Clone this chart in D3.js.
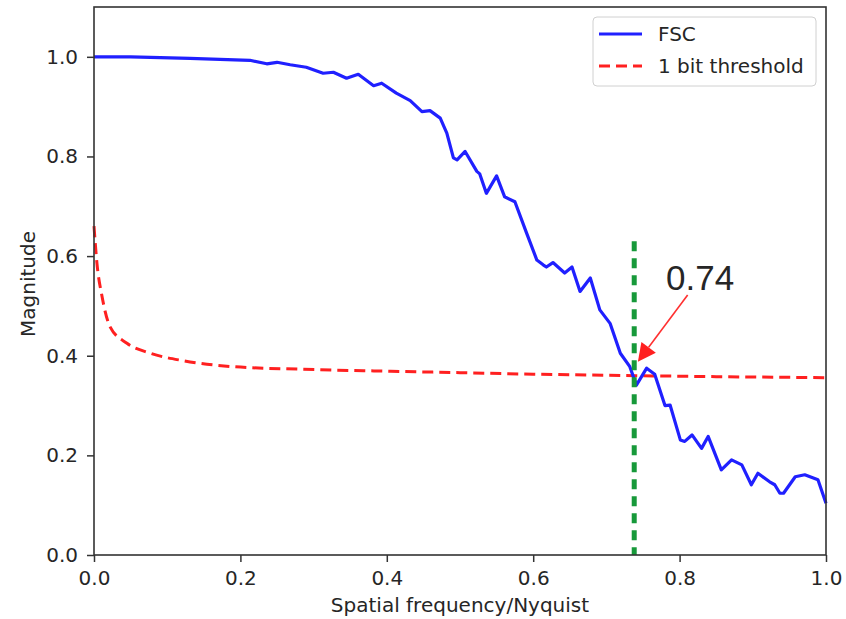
<!DOCTYPE html>
<html>
<head>
<meta charset="utf-8">
<script src="https://cdn.jsdelivr.net/npm/d3@7"></script>
<style>
  body { margin: 0; background: #fff; }
  text { font-family: "DejaVu Sans", sans-serif; fill: #262626; }
</style>
</head>
<body>
<svg id="chart"></svg>
<script>
// FSC curve
const fscX = [0.000, 0.050, 0.131, 0.213, 0.236, 0.250, 0.268, 0.290, 0.313, 0.327, 0.345, 0.361,
  0.382, 0.393, 0.413, 0.432, 0.448, 0.459, 0.473, 0.482, 0.491, 0.496, 0.507, 0.523, 0.527,
  0.536, 0.550, 0.561, 0.575, 0.591, 0.605, 0.614, 0.618, 0.627, 0.643, 0.653, 0.664, 0.678,
  0.691, 0.705, 0.719, 0.732, 0.741, 0.755, 0.766, 0.780, 0.787, 0.801, 0.807, 0.817, 0.830,
  0.839, 0.857, 0.871, 0.885, 0.898, 0.907, 0.923, 0.930, 0.937, 0.942, 0.958, 0.971, 0.989, 1.000]
const fscY = [1.000, 1.000, 0.997, 0.993, 0.986, 0.989, 0.984, 0.979, 0.967, 0.969, 0.957, 0.965,
  0.942, 0.947, 0.927, 0.912, 0.890, 0.892, 0.877, 0.847, 0.797, 0.793, 0.810, 0.770, 0.765,
  0.726, 0.761, 0.719, 0.709, 0.646, 0.592, 0.582, 0.578, 0.587, 0.566, 0.578, 0.529, 0.556,
  0.492, 0.465, 0.405, 0.378, 0.341, 0.375, 0.363, 0.300, 0.301, 0.231, 0.228, 0.241, 0.214,
  0.238, 0.171, 0.191, 0.181, 0.141, 0.164, 0.147, 0.141, 0.124, 0.124, 0.157, 0.161, 0.151, 0.104]

// 1 bit threshold curve
const thrX = [0.000, 0.004, 0.011, 0.022, 0.045, 0.077, 0.122, 0.190, 0.281, 0.400, 0.500, 0.600, 0.740, 0.850, 1.000]
const thrY = [0.660, 0.586, 0.519, 0.458, 0.425, 0.405, 0.390, 0.378, 0.373, 0.369, 0.366, 0.363, 0.360, 0.358, 0.356]

const xTicks = [0, 0.2, 0.4, 0.6, 0.8, 1.0]
const yTicks = [0, 0.2, 0.4, 0.6, 0.8, 1.0]
const seriesNames = ['FSC', '1 bit threshold']

// crossing point and annotation
const resolution = 0.738
const greenTop = 0.63
const arrowTip = [0.743, 0.388]
const arrowTail = [0.811, 0.522]

const W = 846, H = 619
const svg = d3.select('#chart').attr('width', W).attr('height', H)

const x = d3.scaleLinear().domain([0, 1]).range([94, 826])
const y = d3.scaleLinear().domain([0, 1.1]).range([555, 7])

const fsc = fscX.map((v, i) => [v, fscY[i]])
const thr = thrX.map((v, i) => [v, thrY[i]])

const line = d3.line().x(d => x(d[0])).y(d => y(d[1]))

// axes
const xAxis = svg.append('g')
  .attr('transform', `translate(0,${y(0)})`)
  .call(d3.axisBottom(x).tickValues(xTicks).tickFormat(d3.format('.1f')).tickSize(7).tickPadding(9))
const yAxis = svg.append('g')
  .attr('transform', `translate(${x(0)},0)`)
  .call(d3.axisLeft(y).tickValues(yTicks).tickFormat(d3.format('.1f')).tickSize(7).tickPadding(9))

;[xAxis, yAxis].forEach(a => {
  a.select('.domain').remove()
  a.selectAll('.tick line').attr('stroke', '#333').attr('stroke-width', 1.5)
  a.selectAll('.tick text').style('font-size', '20px').style('font-family', 'DejaVu Sans').attr('fill', '#333')
})

// curves
svg.append('path')
  .datum(thr)
  .attr('d', line.curve(d3.curveMonotoneX))
  .attr('fill', 'none')
  .attr('stroke', '#ff2020')
  .attr('stroke-width', 3)
  .attr('stroke-dasharray', '11,6')

svg.append('path')
  .datum(fsc)
  .attr('d', line.curve(d3.curveLinear))
  .attr('fill', 'none')
  .attr('stroke', '#2020ff')
  .attr('stroke-width', 3.2)
  .attr('stroke-linejoin', 'round')

// vertical resolution marker
svg.append('line')
  .attr('x1', x(resolution)).attr('x2', x(resolution))
  .attr('y1', y(greenTop)).attr('y2', y(0))
  .attr('stroke', '#17993a')
  .attr('stroke-width', 5)
  .attr('stroke-dasharray', '10,7')

// arrow
const tx = x(arrowTip[0]), ty = y(arrowTip[1])
const sx = x(arrowTail[0]), sy = y(arrowTail[1])
const ang = Math.atan2(ty - sy, tx - sx)
const headL = 18, headW = 9
const bx = tx - headL * Math.cos(ang), by = ty - headL * Math.sin(ang)
svg.append('line')
  .attr('x1', sx).attr('y1', sy).attr('x2', bx).attr('y2', by)
  .attr('stroke', '#ff3030').attr('stroke-width', 1.6)
svg.append('polygon')
  .attr('points', [
    [tx, ty],
    [bx + headW * Math.sin(ang), by - headW * Math.cos(ang)],
    [bx - headW * Math.sin(ang), by + headW * Math.cos(ang)]
  ].map(p => p.join(',')).join(' '))
  .attr('fill', '#ff2020')

svg.append('text')
  .attr('x', 666).attr('y', 290)
  .style('font-family', '"Liberation Sans", Arial, sans-serif')
  .style('font-size', '35px')
  .attr('fill', '#222')
  .text(d3.format('.2f')(resolution))

// frame
svg.append('rect')
  .attr('x', x(0)).attr('y', y(1.1))
  .attr('width', x(1) - x(0)).attr('height', y(0) - y(1.1))
  .attr('fill', 'none').attr('stroke', '#333').attr('stroke-width', 1.6)

// axis labels
svg.append('text')
  .attr('x', (x(0) + x(1)) / 2).attr('y', 612)
  .attr('text-anchor', 'middle')
  .style('font-size', '20px')
  .attr('fill', '#333')
  .text('Spatial frequency/Nyquist')

svg.append('text')
  .attr('transform', 'translate(35,284) rotate(-90)')
  .attr('text-anchor', 'middle')
  .style('font-size', '20px')
  .attr('fill', '#333')
  .text('Magnitude')

// legend
const legend = svg.append('g')
legend.append('rect')
  .attr('x', 593).attr('y', 17).attr('width', 223).attr('height', 69).attr('rx', 4)
  .attr('fill', 'white').attr('fill-opacity', 0.8).attr('stroke', '#d0d0d0')
const legStyles = [
  { color: '#2020ff', dash: null },
  { color: '#ff2020', dash: '11,6' }
]
seriesNames.forEach((name, i) => {
  const ly = 34 + i * 32
  legend.append('line')
    .attr('x1', 599).attr('x2', 642).attr('y1', ly).attr('y2', ly)
    .attr('stroke', legStyles[i].color).attr('stroke-width', 3)
    .attr('stroke-dasharray', legStyles[i].dash)
  legend.append('text')
    .attr('x', 658).attr('y', ly).attr('dy', '0.36em')
    .style('font-size', '20px')
    .attr('fill', '#333')
    .text(name)
})
</script>
</body>
</html>
